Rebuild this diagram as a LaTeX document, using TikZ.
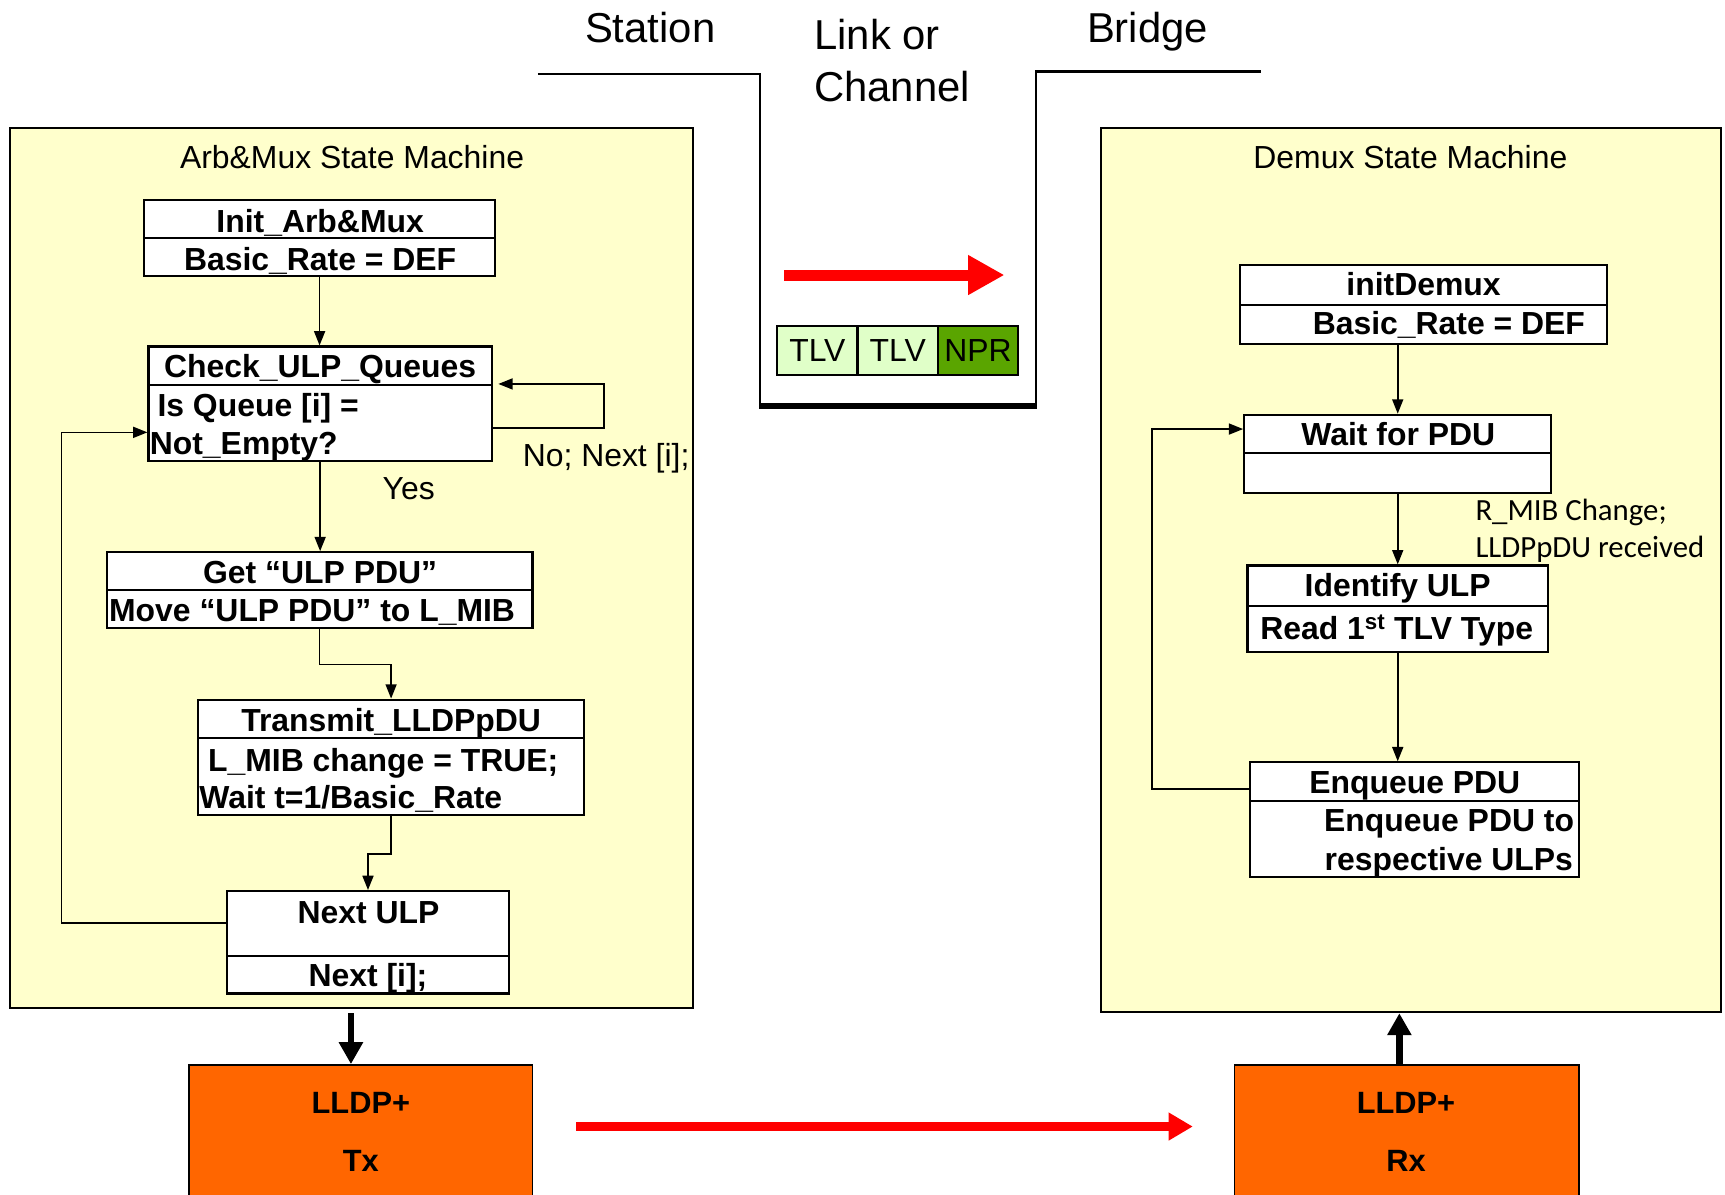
\documentclass[tikz,border=0pt]{standalone}
\usepackage{fontspec}
\setmainfont{Liberation Sans}
\newfontfamily\calfont{Carlito}
\usetikzlibrary{arrows.meta,fit}

\definecolor{smyellow}{HTML}{FFFFCC}
\definecolor{txorange}{HTML}{FF6600}
\definecolor{tlvlight}{HTML}{E0FFC8}
\definecolor{tlvdark}{HTML}{5AA500}
\definecolor{flowred}{HTML}{FF0000}

\begin{document}
\begin{tikzpicture}[x=1pt,y=-1pt,
  smframe/.style={draw=black,line width=2pt,fill=smyellow,inner sep=0pt},
  wbox/.style={draw=black,line width=2pt,fill=white,inner sep=0pt},
  orbox/.style={draw=black,line width=1.5pt,fill=txorange,inner sep=0pt},
  tlvbox/.style={draw=black,line width=2pt,inner sep=0pt,minimum width=73pt,minimum height=45pt,
    font=\fontsize{29}{34}\selectfont},
  divider/.style={line width=2pt},
  btxt/.style={font=\fontsize{29}{34}\selectfont\bfseries,inner sep=0pt,anchor=base},
  rtxt/.style={font=\fontsize{29}{34}\selectfont,inner sep=0pt,anchor=base},
  bigtxt/.style={font=\fontsize{38}{44}\selectfont,inner sep=0pt,anchor=base},
  ctxt/.style={font=\fontsize{28}{33}\selectfont\calfont,inner sep=0pt,anchor=base west},
  lltxt/.style={font=\fontsize{28}{33}\selectfont\bfseries,inner sep=0pt,anchor=base},
  conn/.style={line width=1.5pt,-{Triangle[length=13pt,width=10pt]}},
  thickarrow/.style={line width=6pt,-{Triangle[length=20pt,width=21pt]}},
  redarrow/.style={draw=flowred,line width=10pt,-{Triangle[length=33pt,width=34pt]}},
  redarrowlow/.style={draw=flowred,line width=8pt,-{Triangle[length=22pt,width=24pt]}}
]
\useasboundingbox (0,0) rectangle (1568,1086);
\clip (0,0) rectangle (1568,1086);
\fill[white] (0,0) rectangle (1568,1086);

% ---------- station / link / bridge headings ----------
\node[bigtxt] (station) at (591,39) {Station};
\node[bigtxt,anchor=base west] (link1) at (740,45) {Link or};
\node[bigtxt,anchor=base west] (link2) at (740,92) {Channel};
\node[bigtxt] (bridge) at (1043,39) {Bridge};

% channel outline
\draw[line width=2pt] (489,67) -- (691,67) -- (691,369) -- (942,369) -- (942,65) -- (1146,65);
\draw[line width=5pt] (690,369) -- (943,369);

% frame travelling on the link
\coordinate (la) at (713,250);
\coordinate (lb) at (913,250);
\draw[redarrow] (la) -- (lb);
\node[tlvbox,fill=tlvlight] (tlv1) at (743,318.5) {TLV};
\node[tlvbox,fill=tlvlight] (tlv2) at (816,318.5) {TLV};
\node[tlvbox,fill=tlvdark] (npr) at (889,318.5) {NPR};

% ---------- Arb&Mux state machine ----------
\node[smframe,fit={(9,116) (630,916)}] (arb) {};
\node[rtxt] (arbtitle) at (320,153) {Arb\&Mux State Machine};

\node[wbox,fit={(131,182) (450,251)}] (init) {};
\draw[divider] (131,216) -- (450,216);
\node[btxt] (init-a) at (291,211) {Init\_Arb\&Mux};
\node[btxt] (init-b) at (291,246) {Basic\_Rate = DEF};

\node[wbox,fit={(135,315) (447,419)}] (chk) {};
\draw[divider] (135,350) -- (447,350);
\node[btxt] (chk-a) at (291,343) {Check\_ULP\_Queues};
\node[btxt,anchor=base west] (chk-b) at (143,379) {Is Queue [i] =};
\node[btxt,anchor=base west] (chk-c) at (136,413) {Not\_Empty?};

\node[wbox,fit={(97,502) (484,571)}] (get) {};
\draw[divider] (97,536) -- (484,536);
\node[btxt] (get-a) at (291,530) {Get “ULP PDU”};
\node[btxt,anchor=base west] (get-b) at (99,565) {Move “ULP PDU” to L\_MIB};

\node[wbox,fit={(180,636) (531,741)}] (trans) {};
\draw[divider] (180,671) -- (531,671);
\node[btxt] (trans-a) at (355.5,665) {Transmit\_LLDPpDU};
\node[btxt,anchor=base west] (trans-b) at (189,701) {L\_MIB change = TRUE;};
\node[btxt,anchor=base west] (trans-c) at (181,735) {Wait t=1/Basic\_Rate};

\node[wbox,fit={(206,810) (463,903)}] (next) {};
\draw[divider] (206,869) -- (463,869);
\node[btxt] (next-a) at (335,839) {Next ULP};
\node[btxt] (next-b) at (334.5,897) {Next [i];};

\node[rtxt,anchor=base west] (nolbl) at (475,424) {No; Next [i];};
\node[rtxt] (yeslbl) at (371.5,454) {Yes};

\draw[conn] (init.south) -- (init.south |- chk.north);
\draw[conn] (chk.south) -- (chk.south |- get.north);
\draw[conn] (get.south) -- ++(0,32) -| (trans.north);
\draw[conn] (trans.south) -- ++(0,34) -| (next.north);

\coordinate (sl1) at (549,389);
\coordinate (sl2) at (549,349);
\draw[conn,shorten >=5pt] (chk.east |- sl1) -- (sl1) -- (sl2) -- (chk.east |- sl2);

\coordinate (ll1) at (56,839);
\coordinate (ll2) at (56,393);
\draw[conn] (next.west |- ll1) -- (ll1) -- (ll2) -- (chk.west |- ll2);

% ---------- Demux state machine ----------
\node[smframe,fit={(1001,116) (1564,920)}] (dmx) {};
\node[rtxt] (dmxtitle) at (1282,153) {Demux State Machine};

\node[wbox,fit={(1127,241) (1461,313)}] (idm) {};
\draw[divider] (1127,277) -- (1461,277);
\node[btxt] (idm-a) at (1294,269) {initDemux};
\node[btxt] (idm-b) at (1317,304) {Basic\_Rate = DEF};

\node[wbox,fit={(1131,377) (1410,448)}] (wait) {};
\draw[divider] (1131,412) -- (1410,412);
\node[btxt] (wait-a) at (1271,405) {Wait for PDU};

\node[wbox,fit={(1134,514) (1407,593)}] (ident) {};
\draw[divider] (1134,551) -- (1407,551);
\node[btxt] (ident-a) at (1270.5,542) {Identify ULP};
\node[btxt] (ident-b) at (1269.5,581) {Read 1\textsuperscript{st} TLV Type};

\node[wbox,fit={(1136,693) (1435,797)}] (enq) {};
\draw[divider] (1136,728) -- (1435,728);
\node[btxt] (enq-a) at (1286,721) {Enqueue PDU};
\node[btxt,anchor=base east] (enq-b) at (1431,756) {Enqueue PDU to};
\node[btxt,anchor=base east] (enq-c) at (1430,791) {respective ULPs};

\node[ctxt] (rmib1) at (1341,473) {R\_MIB Change;};
\node[ctxt] (rmib2) at (1341,507) {LLDPpDU received};

\draw[conn] (wait.north |- idm.south) -- (wait.north);
\draw[conn] (wait.south) -- (wait.south |- ident.north);
\draw[conn] (ident.south) -- (ident.south |- enq.north);

\coordinate (dl1) at (1047,717);
\coordinate (dl2) at (1047,390);
\draw[conn] (enq.west |- dl1) -- (dl1) -- (dl2) -- (wait.west |- dl2);

% ---------- LLDP+ Tx / Rx ----------
\node[orbox,fit={(172,968) (484,1100)}] (tx) {};
\node[lltxt] (tx-a) at (328,1012) {LLDP+};
\node[lltxt] (tx-b) at (328,1065) {Tx};

\node[orbox,fit={(1122,968) (1435,1100)}] (rx) {};
\node[lltxt] (rx-a) at (1278,1012) {LLDP+};
\node[lltxt] (rx-b) at (1278,1065) {Rx};

\coordinate (downx) at (319,0);
\draw[thickarrow,shorten <=4pt] (arb.south -| downx) -- (tx.north -| downx);
\coordinate (upx) at (1272,0);
\draw[thickarrow] (rx.north -| upx) -- (dmx.south -| upx);

\coordinate (rc) at (0,1024);
\draw[redarrowlow,shorten <=39pt,shorten >=37pt] (tx.east |- rc) -- (rx.west |- rc);
\end{tikzpicture}
\end{document}
